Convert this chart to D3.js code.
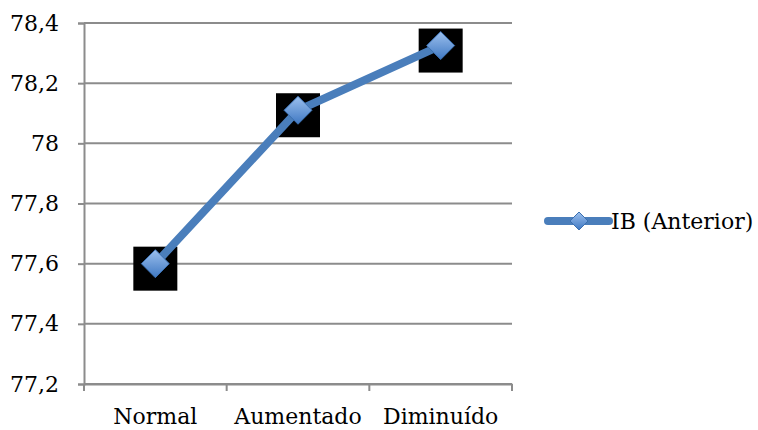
<!DOCTYPE html>
<html>
<head>
<meta charset="utf-8">
<script src="https://cdn.jsdelivr.net/npm/d3@7"></script>
<style>
  html, body { margin: 0; padding: 0; background: #fff; }
  svg { display: block; }
  text { font-family: "DejaVu Serif", serif; font-size: 22px; fill: #000; }
</style>
</head>
<body>
<svg id="chart" width="758" height="430"></svg>
<script>
// Chart data
const categories = ["Normal", "Aumentado", "Diminuído"];
const seriesName = "IB (Anterior)";
const seriesValues = [77.6, 78.11, 78.325];
const yTicks = [77.2, 77.4, 77.6, 77.8, 78, 78.2, 78.4];

const svg = d3.select("#chart");
const plot = { left: 84, right: 512, top: 23, bottom: 384 };
const gridColor = "#8c8c8c";
const lineColor = "#4a7ebb";

const x = d3.scaleBand().domain(categories).range([plot.left, plot.right]).padding(0);
const y = d3.scaleLinear().domain([77.2, 78.4]).range([plot.bottom, plot.top]);
const fmt = v => d3.format(".1f")(v).replace(/\.0$/, "").replace(".", ",");

// Gradient for diamond markers
const defs = svg.append("defs");
const grad = defs.append("linearGradient").attr("id", "markerFill")
  .attr("x1", 0).attr("y1", 0).attr("x2", 0).attr("y2", 1);
grad.append("stop").attr("offset", "0%").attr("stop-color", "#9cc0ee");
grad.append("stop").attr("offset", "100%").attr("stop-color", "#3f78c2");

// Horizontal gridlines
svg.append("g").selectAll("line").data(yTicks).join("line")
  .attr("x1", plot.left).attr("x2", plot.right)
  .attr("y1", d => y(d)).attr("y2", d => y(d))
  .attr("stroke", gridColor).attr("stroke-width", 2);

// Y axis
const yAxis = svg.append("g").attr("transform", `translate(${plot.left},0)`)
  .call(d3.axisLeft(y).tickValues(yTicks).tickFormat(fmt).tickSize(6).tickPadding(19));
yAxis.select(".domain").attr("stroke", gridColor).attr("stroke-width", 2);
yAxis.selectAll(".tick line").attr("stroke", gridColor).attr("stroke-width", 2);
yAxis.selectAll("text").attr("font-family", "DejaVu Serif").attr("font-size", 22).attr("fill", "#000");

// X axis
const xAxis = svg.append("g").attr("transform", `translate(0,${plot.bottom})`)
  .call(d3.axisBottom(x).tickSize(0).tickPadding(24));
xAxis.select(".domain").attr("stroke", gridColor).attr("stroke-width", 2);
xAxis.selectAll("text").attr("font-family", "DejaVu Serif").attr("font-size", 22).attr("fill", "#000");
// Category boundary tick marks
const bounds = categories.map(c => x(c)).concat([x(categories[categories.length - 1]) + x.bandwidth()]);
xAxis.selectAll(".bound").data(bounds).join("line")
  .attr("class", "bound")
  .attr("x1", d => d).attr("x2", d => d).attr("y1", 0).attr("y2", 7)
  .attr("stroke", gridColor).attr("stroke-width", 2);

const pts = categories.map((c, i) => ({ c, v: seriesValues[i] }));
const cx = d => x(d.c) + x.bandwidth() / 2;

// Black highlight squares behind markers
svg.append("g").selectAll("rect").data(pts).join("rect")
  .attr("x", d => cx(d) - 22).attr("y", d => y(d.v) - 17)
  .attr("width", 44).attr("height", 44).attr("fill", "#000");

// Series line
svg.append("path").datum(pts)
  .attr("fill", "none").attr("stroke", lineColor).attr("stroke-width", 8)
  .attr("d", d3.line().x(cx).y(d => y(d.v)));

// Diamond markers
const diamond = r => `M0,${-r}L${r},0L0,${r}L${-r},0Z`;
svg.append("g").selectAll("path").data(pts).join("path")
  .attr("transform", d => `translate(${cx(d)},${y(d.v)})`)
  .attr("d", diamond(14))
  .attr("fill", "url(#markerFill)").attr("stroke", "#3a6fb0").attr("stroke-width", 1);

// Legend
const lg = svg.append("g").attr("transform", "translate(548,221)");
lg.append("line").attr("x1", 0).attr("x2", 61).attr("y1", 0).attr("y2", 0)
  .attr("stroke", lineColor).attr("stroke-width", 8).attr("stroke-linecap", "round");
lg.append("path").attr("transform", "translate(31,0)").attr("d", diamond(9))
  .attr("fill", "url(#markerFill)").attr("stroke", "#3a6fb0").attr("stroke-width", 1);
lg.append("text").attr("x", 63).attr("y", 8).text(seriesName);
</script>
</body>
</html>
